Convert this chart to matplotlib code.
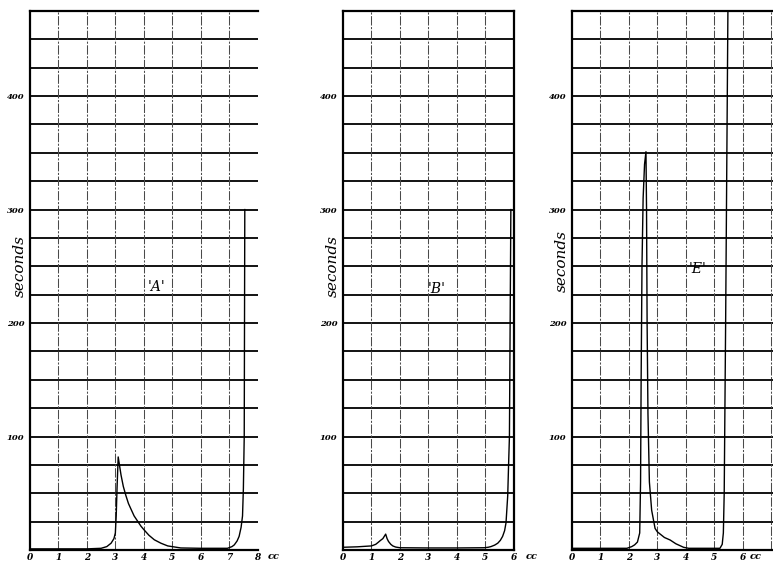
import matplotlib
matplotlib.use("Agg")
import matplotlib.pyplot as plt
import numpy as np

# ---------------- data ----------------
a_x = [0, 1, 2, 2.5, 2.7, 2.85, 2.95, 3.0, 3.03, 3.06, 3.1, 3.15, 3.2, 3.28, 3.37, 3.46, 3.55, 3.66,
       3.78, 3.9, 4.0, 4.18, 4.37, 4.6, 4.84, 5.3, 6.0, 6.94, 7.1, 7.18, 7.28, 7.35, 7.42, 7.47, 7.5, 7.53, 7.55]
a_y = [1, 1, 1, 1.5, 3, 6, 10, 15, 30, 55, 82, 74, 66, 56, 48, 41, 36, 30,
       25.5, 21, 18, 13, 9, 6, 3.6, 1.8, 1.5, 1.5, 3, 4.5, 8, 12, 20, 30, 54, 100, 300]

b_x = [0, 0.5, 1.0, 1.15, 1.23, 1.32, 1.4, 1.5, 1.55, 1.6, 1.68, 1.75, 1.85, 2.0, 3.0, 4.0, 4.97,
       5.1, 5.2, 5.33, 5.44, 5.53, 5.61, 5.68, 5.73, 5.79, 5.82, 5.85, 5.9]
b_y = [2.4, 2.8, 3.6, 5, 6.6, 8.5, 10, 14, 10, 7.5, 5, 3.6, 2.6, 2, 1.8, 1.8, 2,
       2.4, 3, 4.3, 6, 8.5, 12, 17, 24, 48, 75, 100, 300]

e_x = [0, 1, 1.93, 2.1, 2.2, 2.3, 2.38, 2.41, 2.43, 2.46, 2.5, 2.55, 2.6, 2.62, 2.64, 2.67,
       2.72, 2.8, 2.92, 3.0, 3.1, 3.25, 3.45, 3.65, 3.92, 4.1, 5.2, 5.28, 5.32, 5.35, 5.4, 5.48]
e_y = [1.5, 1.5, 1.5, 3, 4.5, 7, 15, 60, 150, 250, 310, 340, 351, 300, 200, 120,
       60, 35, 19, 16, 14, 11, 8.8, 5.5, 2.4, 1.5, 1.5, 5, 15, 50, 200, 475]

y_tick_values = [100, 200, 300, 400]
y_tick_labels = ["100", "200", "300", "400"]
a_xtick_labels = ["0", "1", "2", "3", "4", "5", "6", "7", "8"]
b_xtick_labels = ["0", "1", "2", "3", "4", "5", "6"]
e_xtick_labels = ["0", "1", "2", "3", "4", "5", "6"]
panel_names = ["'A'", "'B'", "'E'"]
y_label = "seconds"
x_unit = "cc"

# ---------------- layout ----------------
W, H = 773, 564
fig = plt.figure(figsize=(W / 100, H / 100), dpi=100)
fig.patch.set_facecolor("white")

top_px, bot_px = 11, 550
unit = 28.45

panels = [
    dict(x=a_x, y=a_y, labels=a_xtick_labels, left=30, xmax=8.0, name=panel_names[0],
         name_pos=(4.45, 232), cc_x=8.57, grid_x=range(1, 8), ylab_y=250),
    dict(x=b_x, y=b_y, labels=b_xtick_labels, left=343, xmax=6.0, name=panel_names[1],
         name_pos=(3.3, 230), cc_x=6.62, grid_x=range(1, 6), ylab_y=250),
    dict(x=e_x, y=e_y, labels=e_xtick_labels, left=572, xmax=7.12, name=panel_names[2],
         name_pos=(4.4, 248), cc_x=6.45, grid_x=range(1, 8), ylab_y=255),
]

serif_it = dict(family="DejaVu Serif", style="italic")

for p in panels:
    width_px = p["xmax"] * unit
    ax = fig.add_axes([p["left"] / W, (H - bot_px) / H, width_px / W, (bot_px - top_px) / H])
    ax.set_xlim(0, p["xmax"])
    ax.set_ylim(0, 475)
    ax.set_facecolor("white")

    # horizontal rules every 25 s
    for yv in np.arange(25, 475, 25):
        ax.axhline(yv, color="black", lw=1.3, zorder=1)
    # vertical rules every cc (thinner, broken)
    for xv in p["grid_x"]:
        ax.axvline(xv, color="#4a4a4a", lw=0.75, ls=(0, (9, 1.5, 2, 1.5)), zorder=1)

    ax.plot(p["x"], p["y"], color="black", lw=1.0, zorder=3, clip_on=True)

    for s in ["left", "bottom", "top"]:
        ax.spines[s].set_linewidth(1.6)
        ax.spines[s].set_color("black")
    if p["xmax"] > 7:
        ax.spines["right"].set_visible(False)
    else:
        ax.spines["right"].set_linewidth(1.6)

    ax.set_yticks(y_tick_values)
    ax.set_yticklabels(y_tick_labels, fontsize=6, fontweight="bold", **serif_it)
    ax.set_xticks(range(len(p["labels"])))
    ax.set_xticklabels(p["labels"], fontsize=6.5, fontweight="bold", **serif_it)
    ax.tick_params(axis="both", length=0)
    ax.tick_params(axis="y", pad=4)
    ax.tick_params(axis="x", pad=2.5)

    ax.annotate(y_label, xy=(0, p["ylab_y"]), xycoords=("axes fraction", "data"),
                xytext=(-7, 0), textcoords="offset points", rotation=90,
                ha="center", va="center", fontsize=11, **serif_it)
    ax.text(p["name_pos"][0], p["name_pos"][1], p["name"], fontsize=10,
            ha="center", va="center", zorder=4, **serif_it)
    ax.annotate(x_unit, xy=(p["cc_x"], 0), xycoords=("data", "axes fraction"),
                xytext=(0, -4.8), textcoords="offset points", ha="center", va="center",
                fontsize=7, fontweight="bold", annotation_clip=False, **serif_it)

fig.savefig("out.png", dpi=100, facecolor="white")
